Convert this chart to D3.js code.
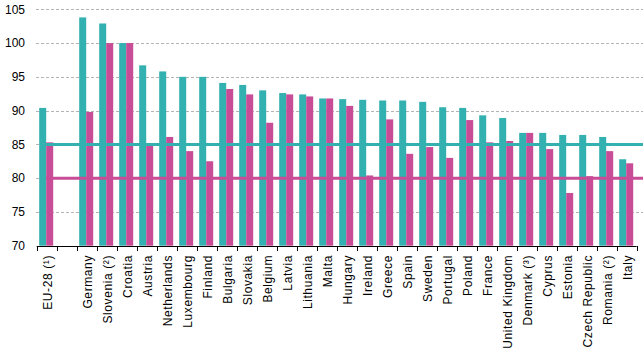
<!DOCTYPE html>
<html><head><meta charset="utf-8">
<script src="https://cdn.jsdelivr.net/npm/d3@7"></script>
<style>body{margin:0;background:#fff}svg{display:block}text{font-family:"Liberation Sans",Arial,sans-serif;fill:#000}</style>
</head><body><svg id="c" width="643" height="350"></svg>
<script>
const categories = ["EU-28 (¹)", "", "Germany", "Slovenia (²)", "Croatia", "Austria", "Netherlands", "Luxembourg", "Finland", "Bulgaria", "Slovakia", "Belgium", "Latvia", "Lithuania", "Malta", "Hungary", "Ireland", "Greece", "Spain", "Sweden", "Portugal", "Poland", "France", "United Kingdom", "Denmark (³)", "Cyprus", "Estonia", "Czech Republic", "Romania (²)", "Italy"];
const seriesA = [90.4, null, 103.8, 102.9, 100.0, 96.7, 95.8, 95.0, 95.0, 94.1, 93.8, 93.0, 92.6, 92.4, 91.8, 91.7, 91.6, 91.5, 91.5, 91.3, 90.5, 90.4, 89.3, 88.9, 86.7, 86.7, 86.4, 86.4, 86.1, 82.8];
const seriesB = [85.3, null, 89.8, 100.0, 100.0, 84.8, 86.1, 84.0, 82.5, 93.2, 92.4, 88.2, 92.4, 92.1, 91.8, 90.7, 80.4, 88.7, 83.6, 84.6, 83.0, 88.6, 85.3, 85.5, 86.7, 84.3, 77.8, 80.3, 84.0, 82.2];
const targetA = 85;
const targetB = 80;
const yTicks = [70, 75, 80, 85, 90, 95, 100, 105];
const colA = "#33b0b0", colB = "#c84c96";

const svg = d3.select("#c");
const x = d3.scaleBand().domain(d3.range(categories.length)).range([36.7, 636.7]).paddingInner(0).paddingOuter(0);
const y = d3.scaleLinear().domain([70, 105]).range([245.7, 9.3]);
const bw = 7;

// gridlines
svg.append("g").selectAll("line").data(yTicks.filter(d => d > 70)).join("line")
  .attr("x1", 36).attr("x2", 643).attr("y1", d => Math.round(y(d)) + 0.5).attr("y2", d => Math.round(y(d)) + 0.5)
  .attr("stroke", "#b4b4b4").attr("stroke-dasharray", "3,2").attr("stroke-width", 1);

// y labels
svg.append("g").selectAll("text").data(yTicks).join("text")
  .attr("x", 25).attr("y", d => y(d)).attr("dy", "0.35em").attr("text-anchor", "end")
  .style("font-size", "12px").text(d => d);

// bars
const g = svg.append("g");
g.selectAll("rect.a").data(seriesA.map((v, i) => ({v, i})).filter(d => d.v != null)).join("rect")
  .attr("class", "a").attr("x", d => x(d.i) + x.bandwidth() / 2 - bw - 0.5).attr("width", bw)
  .attr("y", d => y(d.v)).attr("height", d => y(70) - y(d.v)).attr("fill", colA);
g.selectAll("rect.b").data(seriesB.map((v, i) => ({v, i})).filter(d => d.v != null)).join("rect")
  .attr("class", "b").attr("x", d => x(d.i) + x.bandwidth() / 2 - 0.5).attr("width", bw)
  .attr("y", d => y(d.v)).attr("height", d => y(70) - y(d.v)).attr("fill", colB);

// reference lines
const lx = x(0) + x.bandwidth() / 2 - 0.5;
svg.append("line").attr("x1", lx).attr("x2", 643).attr("y1", y(targetA)).attr("y2", y(targetA))
  .attr("stroke", colA).attr("stroke-width", 3);
svg.append("line").attr("x1", lx).attr("x2", 643).attr("y1", y(targetB)).attr("y2", y(targetB))
  .attr("stroke", colB).attr("stroke-width", 3);

// x axis
const ax = svg.append("g");
ax.append("line").attr("x1", 36.7).attr("x2", 636.7).attr("y1", 246.5).attr("y2", 246.5).attr("stroke", "#000");
ax.selectAll("line.t").data(d3.range(categories.length + 1)).join("line").attr("class", "t")
  .attr("x1", d => Math.round(36.7 + d * x.step()) + 0.5).attr("x2", d => Math.round(36.7 + d * x.step()) + 0.5)
  .attr("y1", 246).attr("y2", 251).attr("stroke", "#000");
ax.selectAll("text").data(categories.map((c, i) => ({c, i}))).join("text")
  .attr("transform", d => `translate(${x(d.i) + x.bandwidth() / 2 + 1},255) rotate(-90)`)
  .attr("text-anchor", "end").attr("dy", "0.35em")
  .style("font-size", "12px").style("letter-spacing", "0.6px").text(d => d.c);
</script></body></html>
